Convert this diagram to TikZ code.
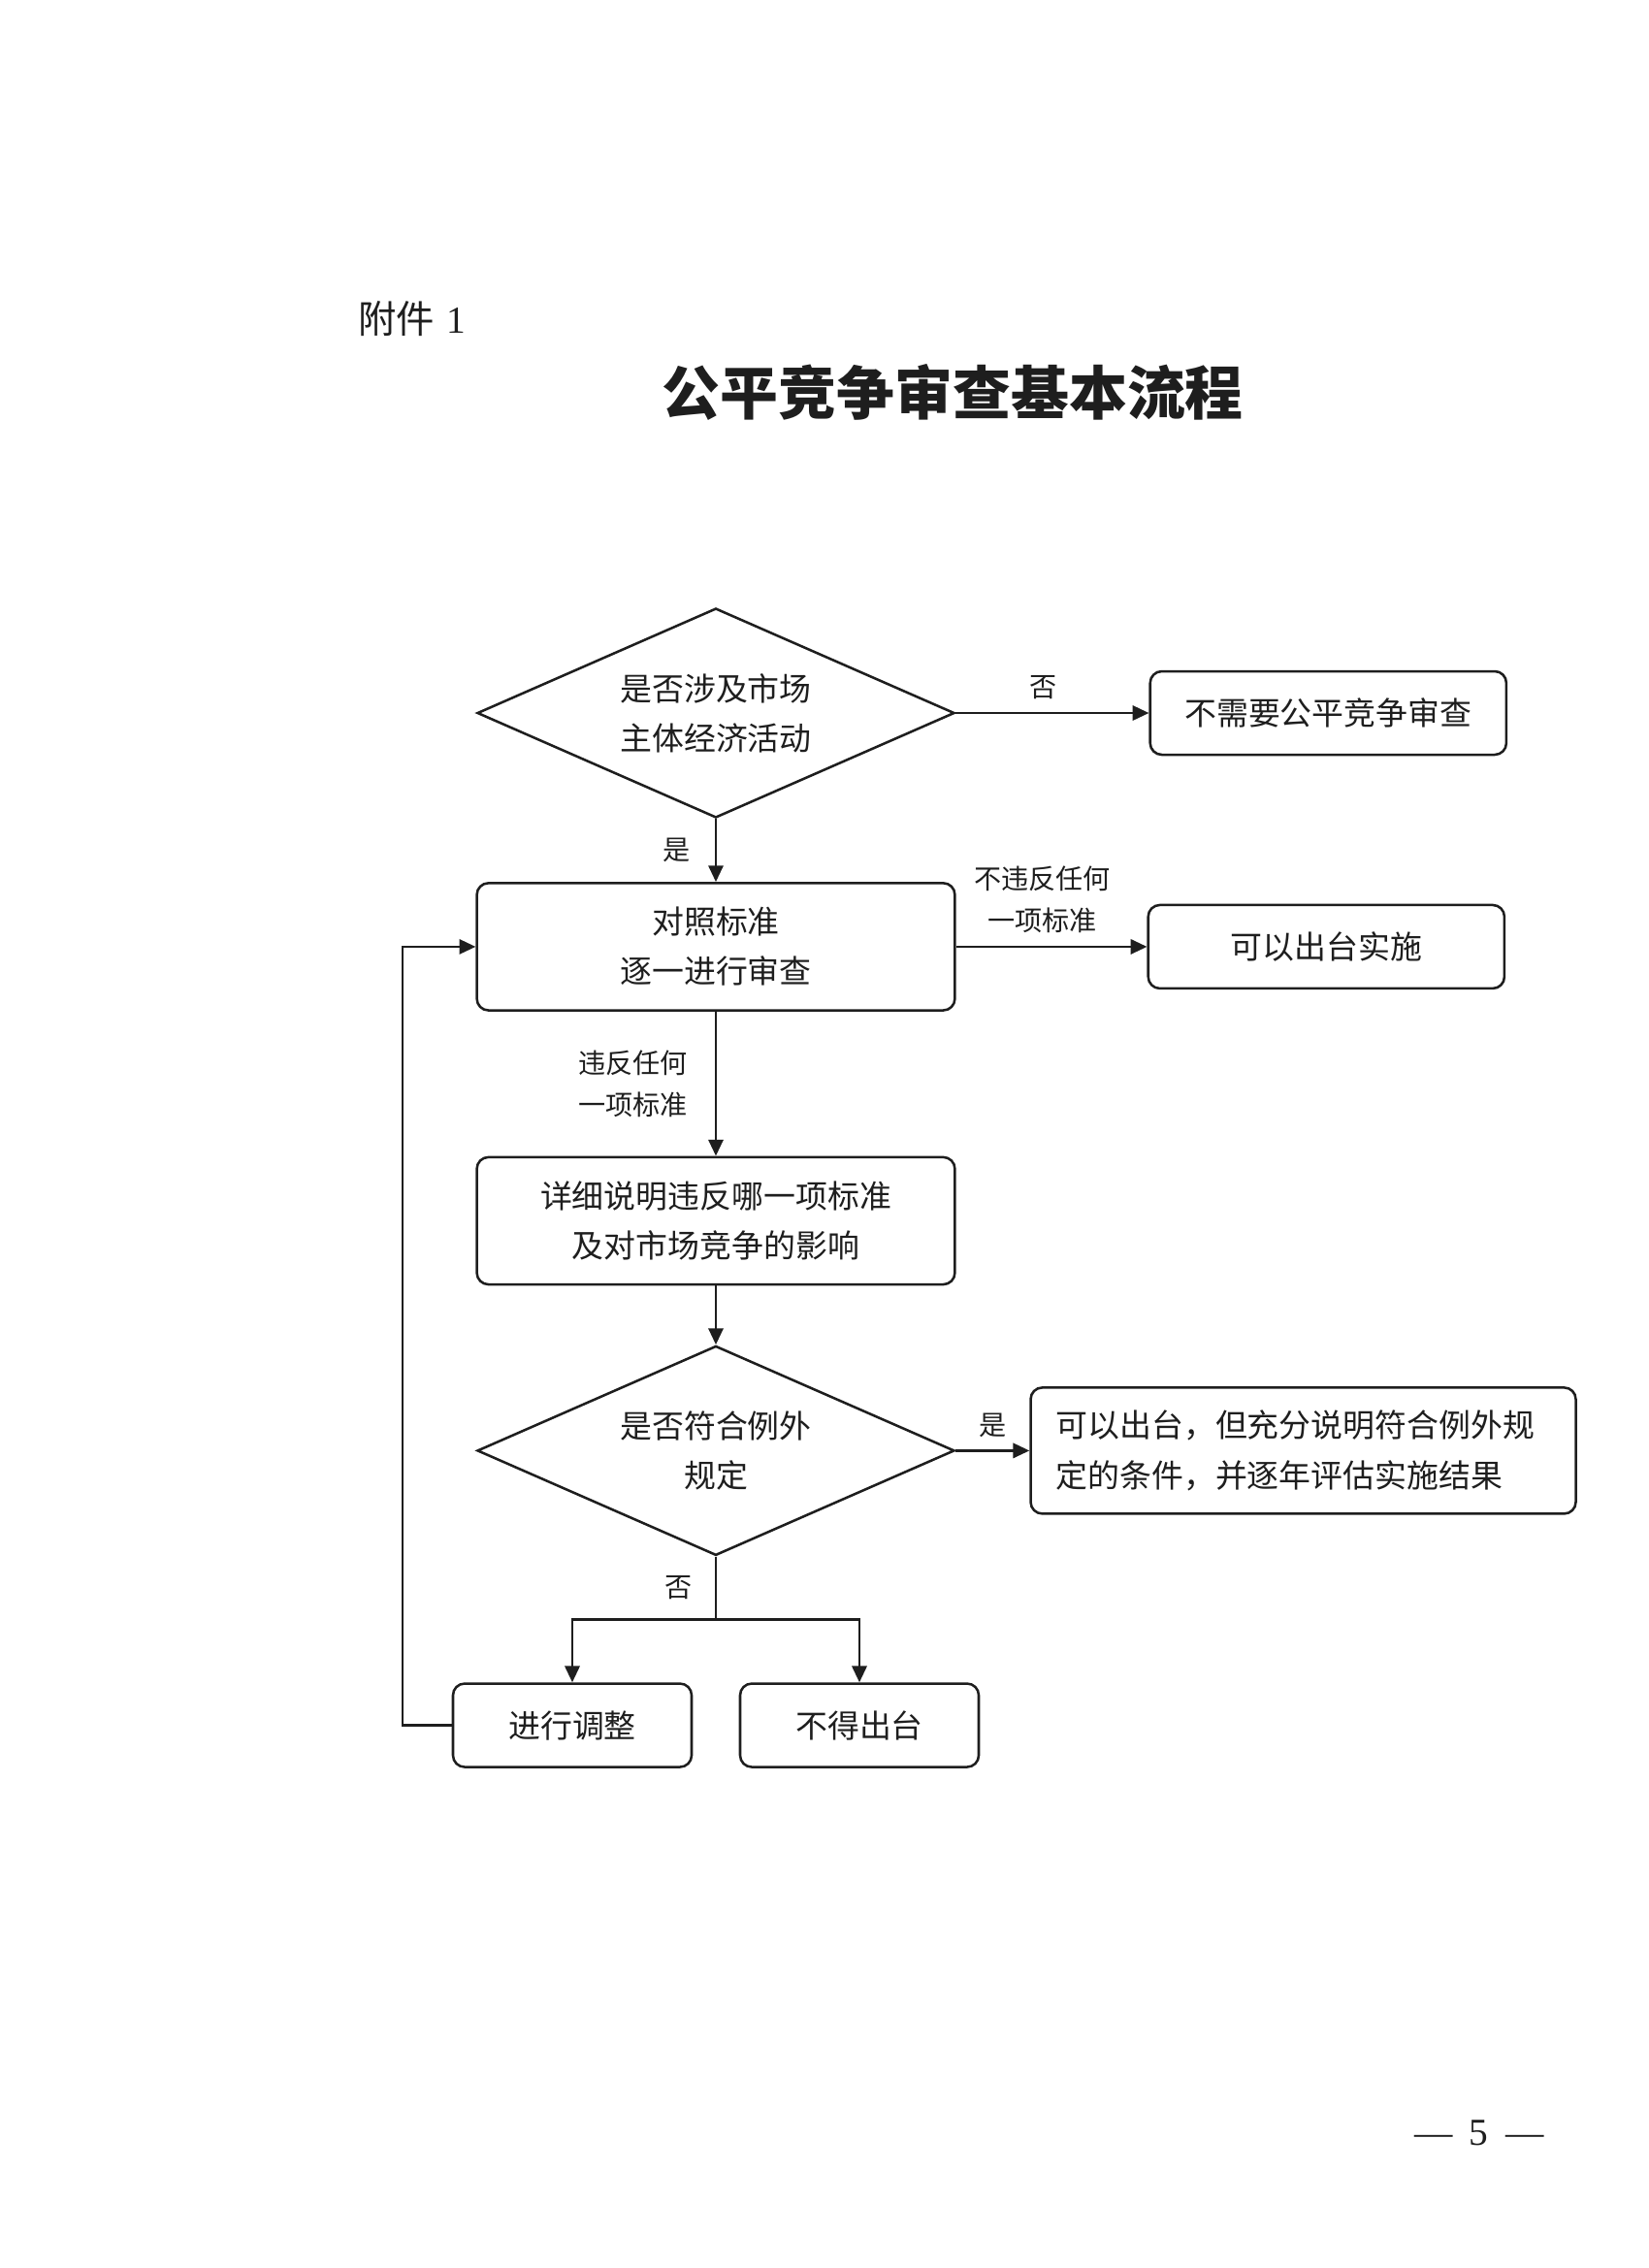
\documentclass[tikz,border=0pt]{standalone}
\usepackage{fontspec}
\setmainfont{Liberation Serif}
\newfontfamily\cjk{Noto Sans CJK SC}
\usepackage{tikz}
\usetikzlibrary{arrows.meta,positioning,shapes.geometric}
\definecolor{ink}{HTML}{1E1E1E}
\tikzset{
  box/.style={draw=ink,fill=white,rounded corners=1.5mm,line width=0.9pt,align=center,inner sep=0pt,text=ink,font=\cjk\fontsize{11.7}{18.2}\selectfont},
  wbox/.style={box,minimum width=61.6mm,minimum height=16.4mm},
  sbox/.style={box,minimum width=45.9mm,minimum height=10.75mm},
  tbox/.style={box,minimum width=30.75mm,minimum height=10.75mm},
  decbox/.style={diamond,draw=ink,line width=0.9pt,align=center,inner sep=0pt,aspect=2.28,minimum width=61.5mm,minimum height=27mm,text=ink,font=\cjk\fontsize{11.7}{18.2}\selectfont},
  lab/.style={font=\cjk\fontsize{10}{15.2}\selectfont,text=ink,align=center,inner sep=0pt},
  arr/.style={-{Triangle[length=2.1mm,width=1.9mm]},draw=ink,line width=0.9pt},
  ln/.style={draw=ink,line width=0.9pt},
}

\begin{document}
\begin{tikzpicture}
  \fill[white] (0,0) rectangle (212.5mm,-292.25mm);
  \useasboundingbox (0,0) rectangle (212.5mm,-292.25mm);
  \node[anchor=west,text=ink,font=\fontsize{14}{16}\selectfont] (att) at (44.9mm,-41.1mm) {{\cjk 附件}\hspace{1.6mm}1};
  \node[text=ink,font=\cjk\bfseries\fontsize{21.3}{24}\selectfont] (title) at (122.8mm,-50.6mm) {公平竞争审查基本流程};
  \node[decbox] (involve) at (92.25mm,-91.875mm) {是否涉及市场\\主体经济活动};
  \node[sbox,right=24.9mm of involve] (noneed) {不需要公平竞争审查};
  \node[wbox,below=8.1mm of involve] (check) {对照标准\\逐一进行审查};
  \node[sbox,right=24.6mm of check] (pass) {可以出台实施};
  \node[wbox,below=18.6mm of check] (detail) {详细说明违反哪一项标准\\及对市场竞争的影响};
  \node[decbox,below=7.6mm of detail] (except) {是否符合例外\\规定};
  \node[box,align=left,text width=63.75mm,inner xsep=3.25mm,minimum height=16.25mm,right=9.5mm of except] (allow) {可以出台，但充分说明符合例外规\\定的条件，并逐年评估实施结果};
  \coordinate[below=8.1mm of except] (fork);
  \node[tbox,below=16.2mm of except,xshift=-18.5mm] (adjust) {进行调整};
  \node[tbox,below=16.2mm of except,xshift=18.5mm] (reject) {不得出台};
  \coordinate[left=9.4mm of check] (back);
  \draw[arr] (involve) -- node[lab,above=1.6mm,xshift=-1.2mm] {否} (noneed);
  \draw[arr] (involve) -- node[lab,left=3.1mm] {是} (check);
  \draw[arr] (check) -- node[lab,above=1.6mm,xshift=-1.2mm] {不违反任何\\一项标准} (pass);
  \draw[arr] (check) -- node[lab,left=3.5mm] {违反任何\\一项标准} (detail);
  \draw[arr] (detail) -- (except);
  \draw[arr] (except) -- node[lab,above=1.6mm] {是} (allow);
  \draw[ln] (except) -- node[lab,left=2.9mm] {否} (fork);
  \draw[arr] (fork) -| (adjust);
  \draw[arr] (fork) -| (reject);
  \draw[arr] (adjust.west) -| (back) -- (check.west);
  \node[text=ink,font=\fontsize{14}{16}\selectfont] (page) at (190.6mm,-274.9mm) {—\hspace{2.2mm}5\hspace{2.2mm}—};
\end{tikzpicture}
\end{document}
